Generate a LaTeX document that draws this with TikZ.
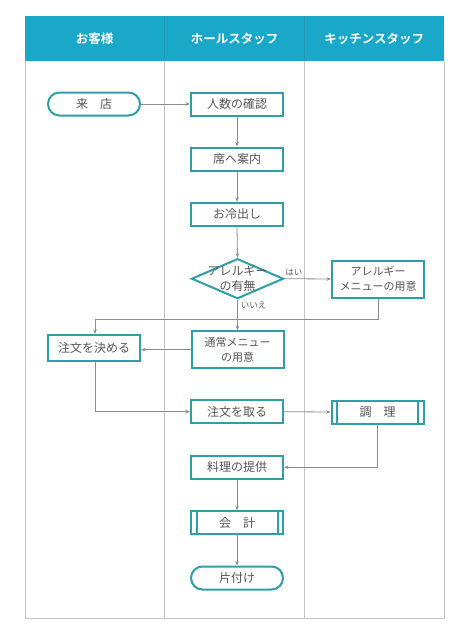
\documentclass[tikz,border=0pt]{standalone}
\usepackage{fontspec}
\setmainfont{Noto Sans CJK JP}
\newfontfamily\jpbold{Noto Sans CJK JP}[BoldFont={* Bold}]
\usetikzlibrary{shapes.geometric,arrows.meta}
\definecolor{headc}{HTML}{1AA8C8}
\definecolor{headline}{HTML}{2197B3}
\definecolor{boxc}{HTML}{2E9FA7}
\definecolor{txtc}{HTML}{555555}
\definecolor{linec}{HTML}{8C8C8C}
\definecolor{framec}{HTML}{C4C4C4}
\tikzset{
  box/.style={draw=boxc, line width=2pt, fill=white, rectangle, minimum width=92pt, minimum height=23pt, inner sep=0pt, text=txtc, font=\fontsize{12}{15}\selectfont, align=center},
  tallbox/.style={box, minimum height=37pt, font=\fontsize{11}{15}\selectfont},
  term/.style={box, rounded corners=11.5pt},
  diam/.style={draw=boxc, line width=2pt, fill=white, diamond, minimum width=92pt, minimum height=40pt, inner sep=0pt},
  txt/.style={text=txtc, font=\fontsize{12}{15}\selectfont, align=center, inner sep=0pt},
  small/.style={text=txtc, font=\fontsize{8.5}{10}\selectfont, inner sep=0pt},
  conn/.style={draw=linec, line width=0.8pt, -{Stealth[length=4.5pt,width=3.5pt]}},
  frame/.style={draw=framec, line width=1pt},
  headtxt/.style={text=white, font=\jpbold\bfseries\fontsize{12.5}{15}\selectfont, inner sep=0pt},
  bar/.style={draw=boxc, line width=2pt}
}
\begin{document}
\begin{tikzpicture}[x=1pt,y=-1pt]
\useasboundingbox (0,0) rectangle (474,637);
\fill[white] (0,0) rectangle (474,637);
% header
\fill[headc] (25,16) rectangle (444,61);
\draw[headline, line width=0.8pt] (164.5,16) -- (164.5,61);
\draw[headline, line width=0.8pt] (304.5,16) -- (304.5,61);
\node[headtxt] (h1) at (94.7,38.5) {お客様};
\node[headtxt] (h2) at (234.5,38.5) {ホールスタッフ};
\node[headtxt] (h3) at (374.3,38.5) {キッチンスタッフ};
% frame
\draw[frame] (25,61) -- (25,618.5) -- (444,618.5) -- (444,61);
\draw[frame] (164.5,61) -- (164.5,618.5);
\draw[frame] (304.5,61) -- (304.5,618.5);
% nodes
\node[term] (visit) at (94,104) {来\hspace{1em}店};
\node[box] (count) at (237,104) {人数の確認};
\node[box] (seat) at (237,159) {席へ案内};
\node[box] (water) at (237,214.3) {お冷出し};
\node[diam] (allergy) at (237.5,278.7) {};
\node[txt] (allergyt) at (allergy) {アレルギー\\の有無};
\node[tallbox] (amenu) at (378,279) {アレルギー\\メニューの用意};
\node[tallbox] (normal) at (237.5,349.7) {通常メニュー\\の用意};
\node[box, minimum height=26pt] (decide) at (94,348) {注文を決める};
\node[box] (order) at (237,411.7) {注文を取る};
\node[box] (cook) at (377.5,412) {調\hspace{1em}理};
\node[box] (serve) at (237,467.3) {料理の提供};
\node[box] (pay) at (237,522.7) {会\hspace{1em}計};
\node[term] (clean) at (237,578) {片付け};
% double bars
\draw[bar] ([xshift=6.5pt]cook.north west) -- ([xshift=6.5pt]cook.south west);
\draw[bar] ([xshift=-6.5pt]cook.north east) -- ([xshift=-6.5pt]cook.south east);
\draw[bar] ([xshift=6.5pt]pay.north west) -- ([xshift=6.5pt]pay.south west);
\draw[bar] ([xshift=-6.5pt]pay.north east) -- ([xshift=-6.5pt]pay.south east);
% connectors
\coordinate (c1) at (378,319.5);
\coordinate (c2) at (95,319.5);
\coordinate (c3) at (95,411.7);
\draw[conn] (visit.east) -- (count.west);
\draw[conn] (count.south) -- (seat.north);
\draw[conn] (seat.south) -- (water.north);
\draw[conn] (water.south) -- (allergy.north);
\draw[conn] (allergy.east) -- (amenu.west) node[small, pos=0.2, above=3pt] (yes) {はい};
\draw[conn] (allergy.south) -- (normal.north) node[small, pos=0.2, right=3pt] (no) {いいえ};
\draw[conn] (amenu.south) -- (c1) -- (c2) -- (decide.north -| c2);
\draw[conn] (normal.west) -- (decide.east |- normal.west);
\draw[conn] (decide.south -| c3) -- (c3) -- (order.west);
\draw[conn] (order.east) -- (cook.west);
\draw[conn] (cook.south) |- (serve.east);
\draw[conn] (serve.south) -- (pay.north);
\draw[conn] (pay.south) -- (clean.north);
\end{tikzpicture}
\end{document}
